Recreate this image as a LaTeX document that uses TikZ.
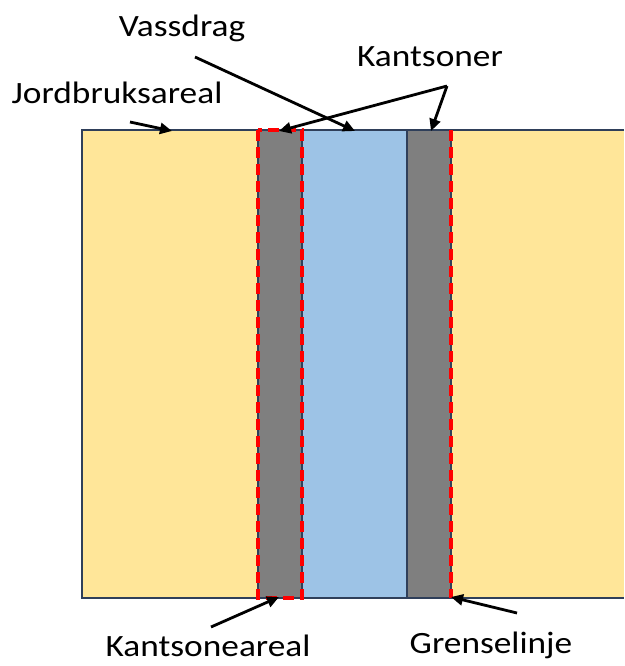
\documentclass[tikz,border=0pt]{standalone}
\usepackage{fontspec}
\setmainfont{Carlito}[FakeStretch=1.14]
\usetikzlibrary{arrows.meta}
\definecolor{farm}{HTML}{FFE699}
\definecolor{water}{HTML}{9DC3E6}
\definecolor{zone}{HTML}{7F7F7F}
\definecolor{edge}{HTML}{2F3F5A}
\tikzset{
  lbl/.style={font=\fontsize{31}{36}\selectfont, inner sep=0pt, anchor=base},
  ptr/.style={line width=2.8pt, -{Triangle[length=12pt,width=11pt]}},
  reddash/.style={draw=red, line width=3.6pt, dash pattern=on 11pt off 6pt},
  outl/.style={draw=edge, line width=1.1pt}
}
\begin{document}
\begin{tikzpicture}[x=1pt,y=-1pt]
\useasboundingbox (0,0) rectangle (624,666);
% areas
\fill[farm] (82,130) rectangle (624,598);
\fill[zone] (258,130) rectangle (302,598);
\fill[water] (302,130) rectangle (407,598);
\fill[zone] (407,130) rectangle (451,598);
\draw[outl] (624,130) -- (82,130) -- (82,598) -- (624,598);
\draw[outl] (258,130) -- (258,598);
\draw[outl] (302,130) -- (302,598);
\draw[outl] (407,130) -- (407,598);
\draw[outl] (451,130) -- (451,598);
% red dashed
\draw[reddash] (258,130) rectangle (302,598);
\draw[reddash] (451,130) -- (451,598);
% labels
\node[lbl] (jord) at (117,103) {Jordbruksareal};
\node[lbl] (vass) at (182,37) {Vassdrag};
\node[lbl] (kant) at (430,67) {Kantsoner};
\node[lbl] (kareal) at (208,656) {Kantsoneareal};
\node[lbl] (grense) at (491,653) {Grenselinje};
% arrow coordinates
\coordinate (jordS) at (130,122);
\coordinate (jordE) at (172,131);
\coordinate (vassS) at (195,57);
\coordinate (vassE) at (355,131);
\coordinate (kantS) at (447,86);
\coordinate (kantE1) at (279,131);
\coordinate (kantE2) at (431,131);
\coordinate (karealS) at (211,627);
\coordinate (karealE) at (279,597);
\coordinate (grenseS) at (517,613);
\coordinate (grenseE) at (451,597);
\draw[ptr] (jordS) -- (jordE);
\draw[ptr] (vassS) -- (vassE);
\draw[ptr] (kantS) -- (kantE1);
\draw[ptr] (kantS) -- (kantE2);
\draw[ptr] (karealS) -- (karealE);
\draw[ptr] (grenseS) -- (grenseE);
\end{tikzpicture}
\end{document}
